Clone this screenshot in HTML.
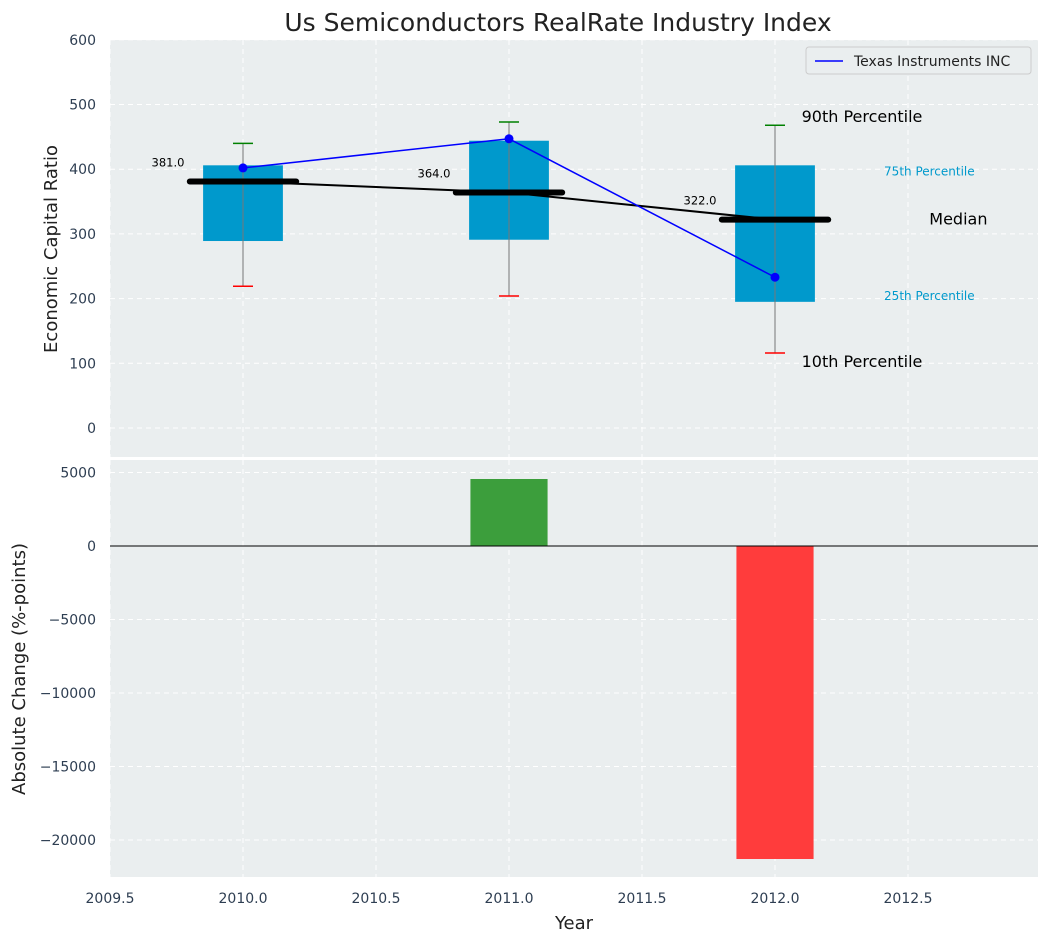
<!DOCTYPE html><html><head><meta charset="utf-8"><style>body{margin:0;background:#fff;font-family:"Liberation Sans","DejaVu Sans",sans-serif}</style></head><body>
<svg id="c" width="1048" height="942" xmlns="http://www.w3.org/2000/svg" font-family="DejaVu Sans, Liberation Sans, sans-serif"></svg>
<script>
const years=[2010,2011,2012];
const p10=[219,204,116];
const p25=[289,291,195];
const medians=[381,364,322];
const p75=[406,444,406];
const p90=[440,473,468];
const ti=[402,447,233];
const changes=[0,4558,-21293];
const topTicks=[0,100,200,300,400,500,600];
const botTicks=[5000,0,-5000,-10000,-15000,-20000];
const xTicks=[2009.5,2010,2010.5,2011,2011.5,2012,2012.5];
const L=110,R=1038,T1=40,B1=457,T2=460,B2=877;
const X=v=>L+(v-2009.5)*266;
const Y1=v=>428-v*0.647;
const Y2=v=>546-v*0.0147;
const s=document.getElementById('c');const NS='http://www.w3.org/2000/svg';
function el(t,a,txt){const e=document.createElementNS(NS,t);for(const k in a)e.setAttribute(k,a[k]);if(txt!==undefined)e.textContent=txt;s.appendChild(e);return e;}
let e;
e=el('rect',{x:L,y:T1,width:R-L,height:B1-T1,fill:'#eaeeef'});


e=el('rect',{x:L,y:T2,width:R-L,height:B2-T2,fill:'#eaeeef'});


xTicks.forEach(v=>{[[T1,B1],[T2,B2]].forEach(([a,b])=>{e=el('line',{x1:X(v),x2:X(v),y1:a,y2:b,stroke:'#fff','stroke-dasharray':'5,4','stroke-width':1});});
e=el('text',{x:X(v),y:903,'text-anchor':'middle','font-size':14,fill:'#2e3e52'},v.toFixed(1));});
topTicks.forEach(v=>{e=el('line',{x1:L,x2:R,y1:Y1(v),y2:Y1(v),stroke:'#fff','stroke-dasharray':'5,4'});
e=el('text',{x:96,y:Y1(v)+5,'text-anchor':'end','font-size':14,fill:'#2e3e52'},v);});
botTicks.forEach(v=>{e=el('line',{x1:L,x2:R,y1:Y2(v),y2:Y2(v),stroke:'#fff','stroke-dasharray':'5,4'});
e=el('text',{x:96,y:Y2(v)+5,'text-anchor':'end','font-size':14,fill:'#2e3e52'},v<0?'\u2212'+(-v):v);});
years.forEach((yr,i)=>{
 e=el('rect',{x:X(yr-0.15),y:Y1(p75[i]),width:X(yr+0.15)-X(yr-0.15),height:Y1(p25[i])-Y1(p75[i]),fill:'#0099cc'});
 e=el('line',{x1:X(yr),x2:X(yr),y1:Y1(p90[i]),y2:Y1(p10[i]),stroke:'#777','stroke-width':1});
 e=el('line',{x1:X(yr)-10,x2:X(yr)+10,y1:Y1(p90[i]),y2:Y1(p90[i]),stroke:'green','stroke-width':1.5});
 e=el('line',{x1:X(yr)-10,x2:X(yr)+10,y1:Y1(p10[i]),y2:Y1(p10[i]),stroke:'red','stroke-width':1.5});
});
e=el('polyline',{points:years.map((y,i)=>X(y)+','+Y1(medians[i])).join(' '),fill:'none',stroke:'#000','stroke-width':2});
years.forEach((yr,i)=>{
 e=el('line',{x1:X(yr-0.2),x2:X(yr+0.2),y1:Y1(medians[i]),y2:Y1(medians[i]),stroke:'#000','stroke-width':6,'stroke-linecap':'round'});
 e=el('text',{x:X(yr-0.22),y:Y1(medians[i])-15,'text-anchor':'end','font-size':11.5,fill:'#000'},medians[i].toFixed(1));
});
e=el('polyline',{points:years.map((y,i)=>X(y)+','+Y1(ti[i])).join(' '),fill:'none',stroke:'blue','stroke-width':1.5});
years.forEach((yr,i)=>{e=el('circle',{cx:X(yr),cy:Y1(ti[i]),r:4.5,fill:'blue'});});
const last=2;
e=el('text',{x:X(2012.1),y:Y1(p90[last])-3,'font-size':16,fill:'#000'},'90th Percentile');
e=el('text',{x:X(2012.1),y:Y1(p10[last])+14,'font-size':16,fill:'#000'},'10th Percentile');
e=el('text',{x:X(2012.41),y:Y1(p75[last])+10,'font-size':12,fill:'#0099cc'},'75th Percentile');
e=el('text',{x:X(2012.41),y:Y1(p25[last])-2,'font-size':12,fill:'#0099cc'},'25th Percentile');
e=el('text',{x:X(2012.58),y:Y1(medians[last])+5,'font-size':16,fill:'#000'},'Median');
years.forEach((yr,i)=>{if(!changes[i])return;const v=changes[i];
 e=el('rect',{x:X(yr-0.145),y:Math.min(Y2(0),Y2(v)),width:X(yr+0.145)-X(yr-0.145),height:Math.abs(Y2(v)-Y2(0)),fill:v>0?'#3c9e3c':'#ff3c3c'});});
e=el('line',{x1:L,x2:R,y1:Y2(0),y2:Y2(0),stroke:'#000','stroke-width':1});
e=el('rect',{x:806,y:47,width:225,height:27,fill:'#eaeeef',stroke:'#ccc',rx:3});
e=el('line',{x1:815,x2:843,y1:61,y2:61,stroke:'blue','stroke-width':1.5});
e=el('text',{x:854,y:66,'font-size':14,fill:'#222'},'Texas Instruments INC');
e=el('text',{x:558,y:31,'text-anchor':'middle','font-size':25,fill:'#222'},'Us Semiconductors RealRate Industry Index');
e=el('text',{x:574,y:929,'text-anchor':'middle','font-size':18,fill:'#222'},'Year');
e=el('text',{x:0,y:0,'text-anchor':'middle','font-size':18,fill:'#222',transform:'translate(57,249) rotate(-90)'},'Economic Capital Ratio');
e=el('text',{x:0,y:0,'text-anchor':'middle','font-size':18,fill:'#222',transform:'translate(25,669) rotate(-90)'},'Absolute Change (%-points)');
</script></body></html>
